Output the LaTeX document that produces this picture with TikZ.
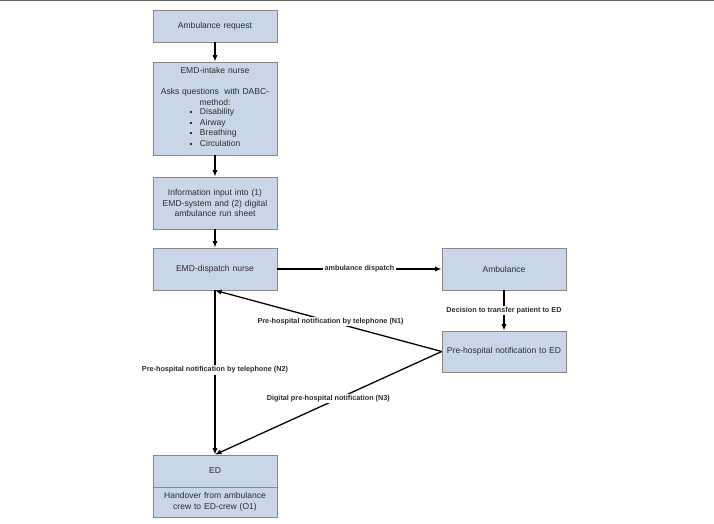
\documentclass[tikz,border=0pt]{standalone}
\usepackage{fontspec}
\setmainfont{Liberation Sans}
\usetikzlibrary{positioning, arrows.meta}
\definecolor{boxBlue}{RGB}{201,214,232}
\definecolor{boxGray}{RGB}{135,135,135}
\definecolor{textGray}{RGB}{45,45,45}
\definecolor{edgeGray}{RGB}{95,95,95}
\newcommand{\sqbullet}{\raisebox{1.2pt}{\rule{1.8pt}{1.8pt}}}

\begin{document}
\begin{tikzpicture}[x=0.03cm, y=-0.03cm,
		flowbox/.style={draw=boxGray, fill=boxBlue, line width=0.6pt, minimum width=3.72cm,
			text width=3.6cm, align=center, inner sep=0pt, text=textGray,
			font=\fontsize{7.3}{9.1}\selectfont},
		flowarrow/.style={-{Latex[length=5.5pt,width=4.4pt]}, line width=1.1pt},
		flowlabel/.style={fill=white, inner sep=1pt, text=textGray,
			font=\bfseries\fontsize{6.2}{7}\selectfont}]
				\useasboundingbox (0,0) rectangle (714,524);
				\draw[edgeGray, line width=1pt] (0,0.5) -- (714,0.5);
				% Call intake column
				\node[flowbox, minimum height=0.96cm] (request) at (215,26) {Ambulance request};
				\node[flowbox, minimum height=2.79cm] (intake) at (215,108.5) {EMD-intake nurse\\[9.1pt]
					Asks questions\ \ with DABC-\\method:\\
					\begin{tabular}{@{}l@{\hspace{7pt}}l@{}}
						\sqbullet & Disability\\ \sqbullet & Airway\\ \sqbullet & Breathing\\ \sqbullet & Circulation
					\end{tabular}};
				\node[flowbox, minimum height=1.56cm] (input) at (215,203) {Information input into (1)\\EMD-system and (2) digital\\ambulance run sheet};
				\node[flowbox, minimum height=1.26cm] (dispatch) at (215,269) {EMD-dispatch nurse};
				% Ambulance column
				\node[flowbox, minimum height=1.26cm] (ambulance) at (504,269) {Ambulance};
				\node[flowbox, minimum height=1.23cm] (prenote) at (504,351.5) {Pre-hospital notification to ED};
				% Emergency department
				\node[flowbox, minimum height=0.96cm] (edtop) at (215,471) {ED};
				\node[flowbox, minimum height=0.90cm] (edbottom) at (215,502) {Handover from ambulance\\crew to ED-crew (O1)};
				% Connectors
				\draw[flowarrow] (request) -- (intake);
				\draw[flowarrow] (intake) -- (input);
				\draw[flowarrow] (input) -- (dispatch);
				\draw[flowarrow] (dispatch) -- node[flowlabel] {ambulance dispatch} (ambulance);
				\draw[flowarrow] (ambulance) -- node[flowlabel] {Decision to transfer patient to ED} (prenote);
				\draw[flowarrow] (prenote.west) -- node[flowlabel, pos=0.49] {Pre-hospital notification by telephone (N1)} (dispatch.south);
				\draw[flowarrow] (dispatch.south) -- node[flowlabel, pos=0.485] {Pre-hospital notification by telephone (N2)} (edtop.north);
				\draw[flowarrow] (prenote.west) -- node[flowlabel, yshift=4pt] {Digital pre-hospital notification (N3)} (edtop.north);
			\end{tikzpicture}
\end{document}
